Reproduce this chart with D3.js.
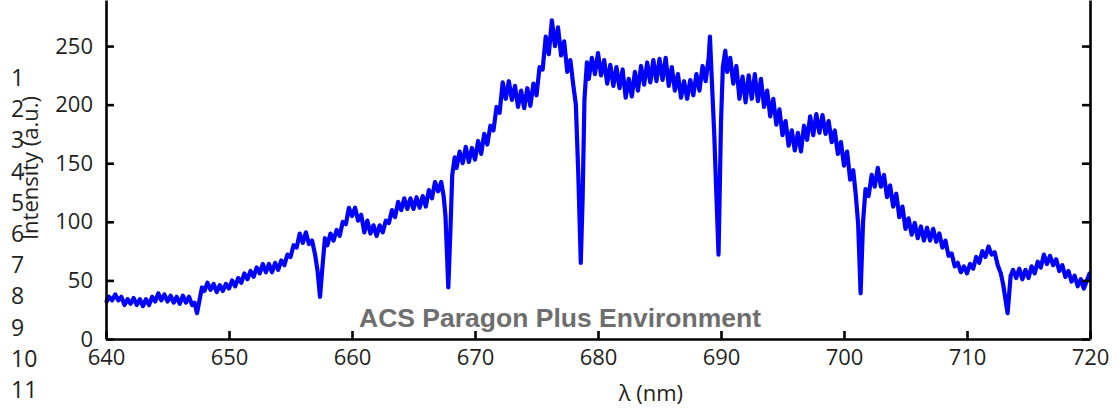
<!DOCTYPE html>
<html>
<head>
<meta charset="utf-8">
<script src="https://cdn.jsdelivr.net/npm/d3@7"></script>
<style>
  body { margin: 0; background: #fff; }
  svg { display: block; }
  .axis text { font-family: "Open Sans", sans-serif; font-size: 22px; fill: #231f20; }
  .axis line, .axis path { stroke: #000; stroke-width: 2.6px; }
</style>
</head>
<body>
<div id="chart"></div>
<script>
// spectrum, [wavelength nm, intensity a.u.]
const seg640 = [
  [640.00, 31], [640.25, 36], [640.50, 33], [640.75, 38], [641.00, 33], [641.25, 36],
  [641.50, 29], [641.75, 34], [642.00, 30], [642.25, 35], [642.50, 29], [642.75, 34],
  [643.00, 28], [643.25, 34], [643.50, 29], [643.75, 36], [644.00, 32], [644.25, 39],
  [644.50, 33], [644.75, 38], [645.00, 32], [645.25, 37], [645.50, 31], [645.75, 36],
  [646.00, 30], [646.25, 37], [646.50, 31], [646.75, 36], [647.00, 29], [647.20, 31],
  [647.40, 22], [647.60, 33], [647.80, 44], [648.00, 41], [648.25, 48], [648.50, 42],
  [648.75, 47], [649.00, 40], [649.25, 46], [649.50, 41], [649.75, 47], [650.00, 43],
  [650.25, 50], [650.50, 45], [650.75, 52], [651.00, 48], [651.25, 56], [651.50, 51],
  [651.75, 58], [652.00, 53], [652.25, 61], [652.50, 56], [652.75, 64], [653.00, 57],
  [653.25, 64], [653.50, 57], [653.75, 65], [654.00, 59], [654.25, 67], [654.50, 63],
  [654.75, 72], [655.00, 70], [655.25, 80], [655.50, 78], [655.75, 90], [656.00, 82],
  [656.25, 91], [656.50, 81], [656.75, 84], [657.00, 72], [657.20, 58], [657.40, 36],
  [657.60, 62], [657.80, 86], [658.00, 80], [658.25, 90], [658.50, 84], [658.75, 93],
  [659.00, 88], [659.25, 100], [659.50, 98], [659.75, 112], [660.00, 105]
];
const seg660 = [
  [660.25, 112], [660.50, 101], [660.75, 106], [661.00, 91], [661.25, 101], [661.50, 90],
  [661.75, 97], [662.00, 88], [662.25, 97], [662.50, 91], [662.75, 101], [663.00, 99],
  [663.25, 110], [663.50, 104], [663.75, 117], [664.00, 110], [664.25, 120], [664.50, 111],
  [664.75, 120], [665.00, 111], [665.25, 121], [665.50, 112], [665.75, 122], [666.00, 113],
  [666.25, 127], [666.50, 120], [666.75, 134], [667.00, 126], [667.25, 134], [667.45, 122],
  [667.60, 105], [667.83, 44], [668.00, 92], [668.15, 140], [668.35, 155], [668.50, 146],
  [668.75, 160], [669.00, 150], [669.25, 164], [669.50, 151], [669.75, 163], [670.00, 153],
  [670.25, 169], [670.50, 158], [670.75, 175], [671.00, 166], [671.25, 182], [671.50, 178],
  [671.75, 198], [672.00, 193], [672.25, 219], [672.50, 205], [672.75, 220], [673.00, 204],
  [673.25, 216], [673.50, 198], [673.75, 212], [674.00, 197], [674.25, 214], [674.50, 199],
  [674.75, 218], [675.00, 208], [675.25, 232], [675.50, 230], [675.75, 258], [676.00, 243],
  [676.25, 272], [676.50, 250], [676.75, 266], [677.00, 242], [677.25, 254], [677.50, 228],
  [677.75, 238], [678.00, 216], [678.20, 200], [678.40, 140], [678.60, 65], [678.75, 120],
  [678.90, 205], [679.10, 236], [679.25, 222], [679.50, 240], [679.75, 226]
];
const seg680 = [
  [680.00, 244], [680.25, 225], [680.50, 238], [680.75, 218], [681.00, 234], [681.25, 216],
  [681.50, 232], [681.75, 214], [682.00, 230], [682.25, 206], [682.50, 222], [682.75, 207],
  [683.00, 228], [683.25, 212], [683.50, 233], [683.75, 217], [684.00, 236], [684.25, 219],
  [684.50, 238], [684.75, 220], [685.00, 239], [685.25, 221], [685.50, 240], [685.75, 216],
  [686.00, 232], [686.25, 212], [686.50, 226], [686.75, 206], [687.00, 220], [687.25, 205],
  [687.50, 221], [687.75, 208], [688.00, 226], [688.25, 212], [688.50, 233], [688.75, 220],
  [689.00, 240], [689.10, 258], [689.25, 222], [689.45, 175], [689.60, 130], [689.80, 72],
  [690.00, 185], [690.15, 232], [690.35, 246], [690.50, 228], [690.75, 240], [691.00, 218],
  [691.25, 233], [691.50, 205], [691.75, 224], [692.00, 202], [692.25, 225], [692.50, 205],
  [692.75, 226], [693.00, 203], [693.25, 222], [693.50, 198], [693.75, 212], [694.00, 190],
  [694.25, 205], [694.50, 183], [694.75, 196], [695.00, 174], [695.25, 186], [695.50, 165],
  [695.75, 178], [696.00, 161], [696.25, 176], [696.50, 160], [696.75, 182], [697.00, 170],
  [697.25, 190], [697.50, 174], [697.75, 192], [698.00, 176], [698.25, 191], [698.50, 175],
  [698.75, 186], [699.00, 168], [699.25, 178], [699.50, 158], [699.75, 168]
];
const seg700 = [
  [700.00, 148], [700.25, 160], [700.50, 136], [700.75, 144], [700.95, 124], [701.15, 98],
  [701.35, 39], [701.55, 100], [701.75, 128], [702.00, 122], [702.25, 140], [702.50, 130],
  [702.75, 146], [703.00, 130], [703.25, 140], [703.50, 121], [703.75, 131], [704.00, 113],
  [704.25, 124], [704.50, 104], [704.75, 113], [705.00, 94], [705.25, 103], [705.50, 89],
  [705.75, 99], [706.00, 86], [706.25, 96], [706.50, 84], [706.75, 95], [707.00, 84],
  [707.25, 94], [707.50, 83], [707.75, 90], [708.00, 78], [708.25, 84], [708.50, 71],
  [708.75, 73], [709.00, 62], [709.25, 65], [709.50, 57], [709.75, 62], [710.00, 56],
  [710.25, 64], [710.50, 60], [710.75, 70], [711.00, 65], [711.25, 75], [711.50, 70],
  [711.75, 79], [712.00, 72], [712.25, 74], [712.50, 63], [712.75, 56], [712.95, 46],
  [713.30, 22], [713.55, 54], [713.75, 59], [714.00, 52], [714.25, 60], [714.50, 51],
  [714.75, 59], [715.00, 52], [715.25, 62], [715.50, 56], [715.75, 66], [716.00, 61],
  [716.25, 72], [716.50, 64], [716.75, 71], [717.00, 63], [717.25, 68], [717.50, 58],
  [717.75, 63], [718.00, 53], [718.25, 58], [718.50, 49], [718.75, 54], [719.00, 45],
  [719.25, 51], [719.50, 43], [719.75, 50], [720.00, 57]
];

const xTicks = [640, 650, 660, 670, 680, 690, 700, 710, 720];
const yTicks = [0, 50, 100, 150, 200, 250];
// stray line numbers from the manuscript page
const lineNumbers = ["1", "2", "3", "4", "5", "6", "7", "8", "9", "10", "11"];

const width = 1120, height = 410;
const plot = { left: 106, right: 1090, top: 0, bottom: 339 };

const spectrum = seg640.concat(seg660, seg680, seg700);

const x = d3.scaleLinear().domain([640, 720]).range([plot.left, plot.right]);
const y = d3.scaleLinear().domain([0, 289.3]).range([plot.bottom, plot.top]);

const svg = d3.select("#chart")
  .append("svg")
  .attr("width", width)
  .attr("height", height);

svg.append("rect").attr("width", width).attr("height", height).attr("fill", "#fff");

// line numbers down the left margin
svg.append("g")
  .selectAll("text")
  .data(lineNumbers)
  .join("text")
  .attr("x", 11)
  .attr("y", (d, i) => 86 + i * 31.2)
  .attr("font-family", "Open Sans, sans-serif")
  .attr("font-size", 23)
  .attr("fill", "#231f20")
  .text((d) => d);

// spectrum
const line = d3.line()
  .x((d) => x(d[0]))
  .y((d) => y(d[1]));

svg.append("path")
  .datum(spectrum)
  .attr("fill", "none")
  .attr("stroke", "#0000ff")
  .attr("stroke-width", 4.2)
  .attr("stroke-linejoin", "round")
  .attr("d", line);

// axes, ticks pointing inward
svg.append("g")
  .attr("class", "axis")
  .attr("transform", `translate(0,${plot.bottom})`)
  .call(d3.axisBottom(x).tickValues(xTicks).tickSizeInner(-8).tickSizeOuter(0).tickPadding(10).tickFormat(d3.format("d")));

svg.append("g")
  .attr("class", "axis")
  .attr("transform", `translate(${plot.left},0)`)
  .call(d3.axisLeft(y).tickValues(yTicks).tickSizeInner(-8).tickSizeOuter(0).tickPadding(13));

svg.append("g")
  .attr("class", "axis")
  .attr("transform", `translate(${plot.right},0)`)
  .call(d3.axisRight(y).tickValues(yTicks).tickSizeInner(-8).tickSizeOuter(0).tickFormat(""));

// axis titles
svg.append("text")
  .attr("x", x(684.3))
  .attr("y", 401)
  .attr("text-anchor", "middle")
  .attr("font-family", "Open Sans, sans-serif")
  .attr("font-size", 22)
  .attr("fill", "#231f20")
  .text("λ (nm)");

svg.append("text")
  .attr("transform", "translate(38,168) rotate(-90)")
  .attr("text-anchor", "middle")
  .attr("font-family", "Open Sans, sans-serif")
  .attr("font-size", 22)
  .attr("fill", "#231f20")
  .text("Intensity (a.u.)");

// journal watermark
svg.append("text")
  .attr("x", 560)
  .attr("y", 327)
  .attr("text-anchor", "middle")
  .attr("font-family", "Liberation Sans, Arial, sans-serif")
  .attr("font-weight", "bold")
  .attr("font-size", 26.5)
  .attr("fill", "#6e6e6e")
  .text("ACS Paragon Plus Environment");
</script>
</body>
</html>
